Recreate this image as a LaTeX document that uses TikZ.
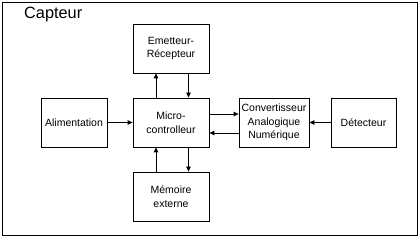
\documentclass[tikz,border=0pt]{standalone}
\usepackage{fontspec}
\setmainfont{Liberation Sans}
\usetikzlibrary{arrows.meta, positioning}

\begin{document}
\begin{tikzpicture}[x=1pt, y=1pt,
  bloc/.style={draw, line width=0.8pt, minimum height=49pt, align=center, inner sep=1pt, font=\fontsize{10.5}{13.5}\selectfont},
  fleche/.style={line width=0.8pt, -{Triangle[length=5pt, width=4.5pt]}}
]
  \useasboundingbox (0,0) rectangle (420,238);
  \draw[line width=0.9pt] (2.5,2.5) rectangle (417.5,235.5);
  \node[anchor=west, font=\fontsize{16.3}{18}\selectfont, inner sep=0pt] (titre) at (24,223) {Capteur};

  \node[bloc, minimum width=76pt] (micro) at (171,115.5) {Micro-\\controlleur};
  \node[bloc, minimum width=76pt] (emet) at (171,189.5) {Emetteur-\\Récepteur};
  \node[bloc, minimum width=76pt] (mem) at (171,41.5) {Mémoire\\externe};
  \node[bloc, minimum width=66pt] (alim) at (74,115.5) {Alimentation};
  \node[bloc, minimum width=70pt] (conv) at (274,115.5) {Convertisseur\\Analogique\\Numérique};
  \node[bloc, minimum width=65pt] (detect) at (363.5,115.5) {Détecteur};

  \draw[fleche] (alim) -- (micro);
  \draw[fleche] ([xshift=-15pt]micro.north) -- ([xshift=-15pt]emet.south);
  \draw[fleche] ([xshift=17.5pt]emet.south) -- ([xshift=17.5pt]micro.north);
  \draw[fleche] ([xshift=-15pt]mem.north) -- ([xshift=-15pt]micro.south);
  \draw[fleche] ([xshift=17.5pt]micro.south) -- ([xshift=17.5pt]mem.north);
  \draw[fleche] ([yshift=8.5pt]micro.east) -- ([yshift=8.5pt]conv.west);
  \draw[fleche] ([yshift=-10.5pt]conv.west) -- ([yshift=-10.5pt]micro.east);
  \draw[fleche] (detect) -- (conv);
\end{tikzpicture}
\end{document}
